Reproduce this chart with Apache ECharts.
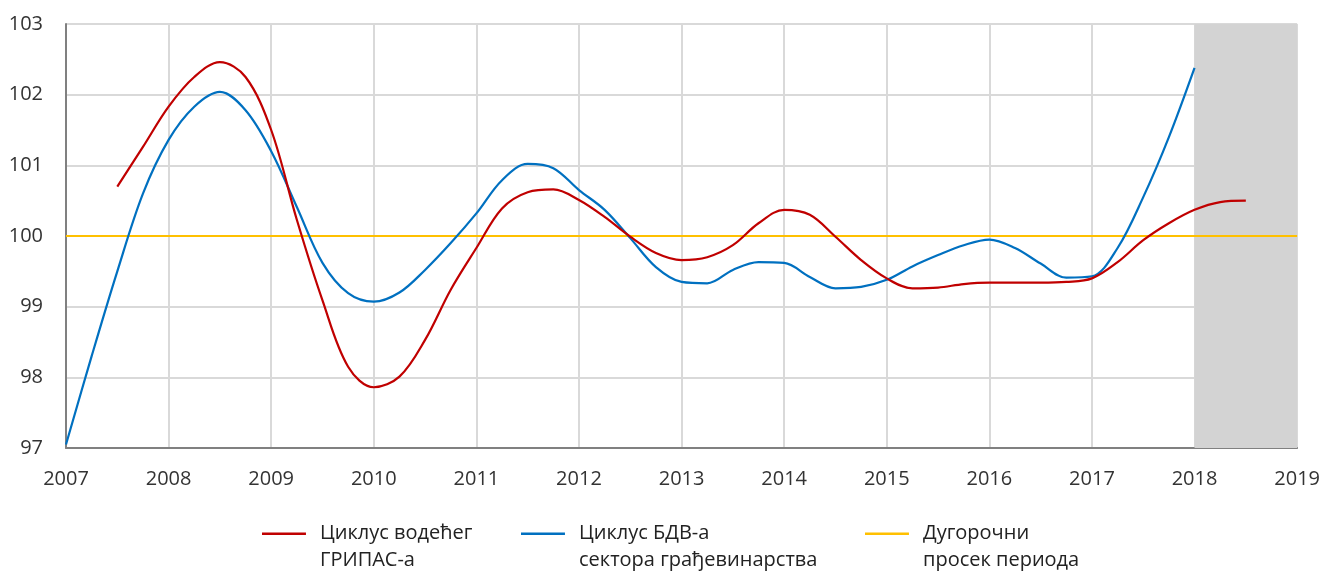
<!DOCTYPE html>
<html><head><meta charset="utf-8">
<script src="https://cdn.jsdelivr.net/npm/echarts@6/dist/echarts.min.js"></script>
<style>html,body{margin:0;padding:0;background:#fff}#c{width:1323px;height:572px}</style>
</head><body><div id="c"></div>
<script>
const bdvPeriods = [2007.00,2007.25,2007.50,2007.75,2008.00,2008.25,2008.50,2008.75,2009.00,2009.25,2009.50,2009.75,2010.00,2010.25,2010.50,2010.75,2011.00,2011.25,2011.50,2011.75,2012.00,2012.25,2012.50,2012.75,2013.00,2013.25,2013.50,2013.75,2014.00,2014.25,2014.50,2014.75,2015.00,2015.25,2015.50,2015.75,2016.00,2016.25,2016.50,2016.75,2017.00,2017.25,2017.50,2017.75,2018.00];
const bdvValues = [97.05,98.3,99.5,100.6,101.36,101.83,102.04,101.78,101.2,100.41,99.62,99.19,99.07,99.2,99.52,99.9,100.32,100.79,101.02,100.96,100.65,100.37,99.97,99.56,99.35,99.33,99.52,99.63,99.62,99.42,99.26,99.28,99.38,99.57,99.73,99.87,99.95,99.83,99.61,99.41,99.43,99.83,100.55,101.4,102.38];
const gripasPeriods = [2007.50,2007.75,2008.00,2008.25,2008.50,2008.75,2009.00,2009.25,2009.50,2009.75,2010.00,2010.25,2010.50,2010.75,2011.00,2011.25,2011.50,2011.75,2012.00,2012.25,2012.50,2012.75,2013.00,2013.25,2013.50,2013.75,2014.00,2014.25,2014.50,2014.75,2015.00,2015.25,2015.50,2015.75,2016.00,2016.25,2016.50,2016.75,2017.00,2017.25,2017.50,2017.75,2018.00,2018.25,2018.50];
const gripasValues = [100.7,101.26,101.83,102.25,102.46,102.25,101.5,100.23,99.09,98.15,97.86,98.01,98.53,99.24,99.83,100.39,100.62,100.66,100.51,100.27,99.99,99.76,99.66,99.7,99.87,100.18,100.37,100.3,99.99,99.66,99.4,99.26,99.27,99.32,99.34,99.34,99.34,99.35,99.4,99.63,99.94,100.18,100.37,100.48,100.5];
const averagePeriods = [2007, 2019];
const averageValues = [100, 100];
const forecastRange = [2018, 2019];
const seriesNames = ['Циклус водећег\nГРИПАС-а', 'Циклус БДВ-а\nсектора грађевинарства', 'Дугорочни\nпросек периода'];
const seriesColors = ['#c00000', '#0070c0', '#ffc000'];

const zip = (xs, ys) => xs.map((x, i) => [x, ys[i]]);
const iconPath = 'path://M0 12.5H44V15H0Z M0 0H0.05V0.05H0Z M53 54H53.05V54.05H53Z';
const font = 'Open Sans, Noto Sans, sans-serif';
const legendLefts = [262, 521, 865];

const chart = echarts.init(document.getElementById('c'), null, {renderer: 'canvas'});
chart.setOption({
  animation: false,
  backgroundColor: '#fff',
  grid: {left: 66, right: 25, top: 24, bottom: 124, containLabel: false},
  legend: seriesNames.map((n, i) => ({
    data: [n], left: legendLefts[i], top: 520, padding: 0, icon: iconPath,
    itemWidth: 53, itemHeight: 54, itemGap: 0, selectedMode: false,
    textStyle: {fontFamily: font, fontSize: 20, color: '#222', lineHeight: 27}
  })),
  xAxis: {
    type: 'value', min: 2007, max: 2019, interval: 1,
    axisLine: {show: true, onZero: false, lineStyle: {color: '#808080', width: 2}},
    axisTick: {show: false},
    axisLabel: {fontFamily: font, fontSize: 20, color: '#333', margin: 21, formatter: v => String(v)},
    splitLine: {show: true, lineStyle: {color: '#d9d9d9', width: 2}}
  },
  yAxis: {
    type: 'value', min: 97, max: 103, interval: 1,
    axisLine: {show: true, lineStyle: {color: '#808080', width: 2}},
    axisTick: {show: false},
    axisLabel: {fontFamily: font, fontSize: 20, color: '#333', margin: 23},
    splitLine: {show: true, lineStyle: {color: '#d9d9d9', width: 2}}
  },
  series: [
    {
      type: 'line', name: 'shade', data: [], z: 1, silent: true,
      markArea: {silent: true, itemStyle: {color: '#d3d3d3'},
        data: [[{xAxis: forecastRange[0], yAxis: 103}, {xAxis: forecastRange[1], yAxis: 97}]]}
    },
    {
      type: 'line', name: seriesNames[0], data: zip(gripasPeriods, gripasValues), smooth: 0.35,
      showSymbol: false, z: 4, color: seriesColors[0], lineStyle: {width: 2.2, color: seriesColors[0]}
    },
    {
      type: 'line', name: seriesNames[1], data: zip(bdvPeriods, bdvValues), smooth: 0.35,
      showSymbol: false, z: 3, color: seriesColors[1], lineStyle: {width: 2.2, color: seriesColors[1]}
    },
    {
      type: 'line', name: seriesNames[2], data: zip(averagePeriods, averageValues),
      showSymbol: false, z: 2, color: seriesColors[2], lineStyle: {width: 2, color: seriesColors[2]}
    }
  ]
});
</script></body></html>
